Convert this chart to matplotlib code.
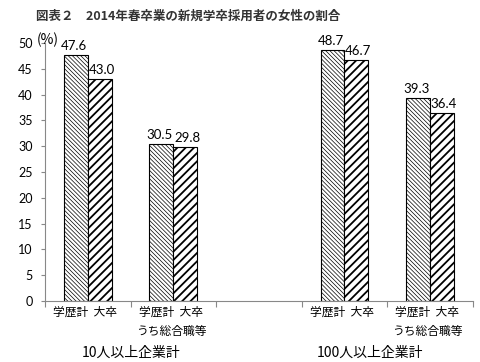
import matplotlib
matplotlib.use("Agg")
import matplotlib.pyplot as plt
import numpy as np

plt.rcParams['font.family'] = ['Noto Sans CJK JP', 'DejaVu Sans']

title = "図表２　2014年春卒業の新規学卒採用者の女性の割合"
cat_labels = ["学歴計  大卒", "学歴計  大卒\nうち総合職等", "", "学歴計  大卒", "学歴計  大卒\nうち総合職等"]
group_labels = ["10人以上企業計", "100人以上企業計"]
left_vals = [47.6, 30.5, np.nan, 48.7, 39.3]
right_vals = [43.0, 29.8, np.nan, 46.7, 36.4]
yticks = [0, 5, 10, 15, 20, 25, 30, 35, 40, 45, 50]

fig = plt.figure(figsize=(4.8, 3.62), dpi=100)
ax = fig.add_axes([0.094, 0.1685, 0.891, 0.7125])

x = np.arange(len(cat_labels))
w = 0.28
with plt.rc_context({'hatch.linewidth': 0.5}):
    b1 = ax.bar(x - w/2, left_vals, w, color='white', edgecolor='black',
                hatch='\\\\\\\\\\\\\\\\', linewidth=0.8)
with plt.rc_context({'hatch.linewidth': 1.3}):
    b2 = ax.bar(x + w/2, right_vals, w, color='white', edgecolor='black',
                hatch='////', linewidth=0.8)

num_font = ['Lato', 'DejaVu Sans']
for xi, v in zip(x - w/2, left_vals):
    if not np.isnan(v):
        ax.text(xi - 0.02, v + 0.6, f"{v:.1f}", ha='center', va='bottom', fontsize=9.5,
                family=num_font)
for xi, v in zip(x + w/2, right_vals):
    if not np.isnan(v):
        ax.text(xi + 0.02, v + 0.6, f"{v:.1f}", ha='center', va='bottom', fontsize=9.5,
                family=num_font)

ax.set_xlim(-0.5, 4.5)
ax.set_ylim(0, 50)
ax.set_yticks(yticks)
ax.set_yticklabels([str(t) for t in yticks], fontsize=9, family=num_font)
ax.set_xticks(np.arange(-0.5, 5, 1))
ax.set_xticklabels([])
ax.tick_params(axis='y', length=3, color='#888888', pad=6)
ax.tick_params(axis='x', length=4, color='#888888')
for s in ['top', 'right']:
    ax.spines[s].set_visible(False)
for s in ['left', 'bottom']:
    ax.spines[s].set_color('#888888')
    ax.spines[s].set_linewidth(0.8)

trans = ax.get_xaxis_transform()
for xi, lab in zip(x, cat_labels):
    if lab:
        ax.text(xi - 0.03, -0.02, lab, transform=trans, ha='center', va='top',
                fontsize=8.5, linespacing=1.6)

ax.text(0.5, -0.2, group_labels[0], transform=trans, ha='center', va='center', fontsize=10)
ax.text(3.3, -0.2, group_labels[1], transform=trans, ha='center', va='center', fontsize=10)

ax.text(-0.465, 50.6, "(%)", ha='center', va='center', fontsize=10)
fig.text(0.075, 0.955, title, ha='left', va='center', fontsize=9, fontweight='bold', color='#333333')

fig.savefig("out.png", dpi=100)
